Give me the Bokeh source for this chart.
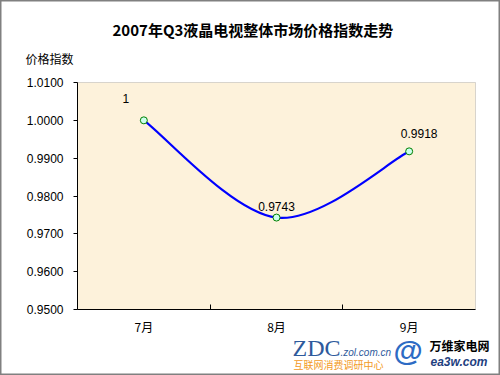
from bokeh.plotting import figure
from bokeh.models import Range1d, FixedTicker, Label, NumeralTickFormatter, ColumnDataSource, LabelSet, BoxAnnotation
from bokeh.core.properties import value
from bokeh.embed import file_html
from bokeh.resources import INLINE

# ---- data ----
months = ["7月", "8月", "9月"]
index_values = [1.0, 0.9743, 0.9918]
value_labels = ["1", "0.9743", "0.9918"]
y_ticks = [0.95, 0.96, 0.97, 0.98, 0.99, 1.00, 1.01]
title_text = "2007年Q3液晶电视整体市场价格指数走势"
y_title = "价格指数"

# ---- layout / style ----
W, H = 500, 375
PL, PR, PT, PB = 77, 475, 82, 309          # plot-area box in canvas pixels
label_dx = [-18, 0, 10]
label_dy = [22, 11, 18]
FONT = "Liberation Sans, Arial, sans-serif"
CJK = "Noto Sans CJK SC"

n = len(months)
xs = [i + 0.5 for i in range(n)]
y0, y1 = y_ticks[0], y_ticks[-1]
xpx = (PR - PL) / n
ypx = (PB - PT) / (y1 - y0)
x_range = Range1d(0 - PL / xpx, n + (W - PR) / xpx)
y_range = Range1d(y0 - (H - PB) / ypx, y1 + PT / ypx)

p = figure(width=W, height=H, output_backend="svg", toolbar_location=None,
           x_range=x_range, y_range=y_range,
           min_border=0, min_border_left=0, min_border_right=0,
           min_border_top=0, min_border_bottom=0)
p.title.visible = False
p.border_fill_color = "#ffffff"
p.background_fill_color = "#ffffff"
p.outline_line_color = "#808080"
p.outline_line_width = 2
p.grid.visible = False

# plot area
p.add_layout(BoxAnnotation(left=0, right=n, bottom=y0, top=y1, fill_color="#FDF2DB",
                           fill_alpha=1.0, line_color="#808080", line_width=1,
                           level="underlay"))

# x axis
xa = p.xaxis[0]
xa.fixed_location = y0
xa.bounds = (0, n)
xa.ticker = FixedTicker(ticks=xs, minor_ticks=[float(i) for i in range(1, n)])
xa.major_label_overrides = {x: m for x, m in zip(xs, months)}
xa.major_tick_in = 0
xa.major_tick_out = 0
xa.minor_tick_in = 5
xa.minor_tick_out = 0
xa.minor_tick_line_color = "black"
xa.axis_line_color = "black"
xa.major_label_standoff = 8
xa.major_label_text_font = CJK
xa.major_label_text_font_size = "12px"
xa.major_label_text_color = "black"

# y axis
ya = p.yaxis[0]
ya.fixed_location = 0
ya.bounds = (y0, y1)
ya.ticker = FixedTicker(ticks=y_ticks, minor_ticks=[])
ya.formatter = NumeralTickFormatter(format="0.0000")
ya.major_tick_in = 0
ya.major_tick_out = 4
ya.minor_tick_line_color = None
ya.axis_line_color = "black"
ya.major_tick_line_color = "black"
ya.major_label_standoff = 10
ya.major_label_text_font = FONT
ya.major_label_text_font_size = "12px"
ya.major_label_text_color = "black"

# smoothed line (Excel-style Catmull-Rom -> Bezier)
x0s, y0s, x1s, y1s, cx0, cy0, cx1, cy1 = [], [], [], [], [], [], [], []
for i in range(n - 1):
    pm = max(i - 1, 0)
    pp = min(i + 2, n - 1)
    x0s.append(xs[i]); y0s.append(index_values[i])
    x1s.append(xs[i + 1]); y1s.append(index_values[i + 1])
    cx0.append(xs[i] + (xs[i + 1] - xs[pm]) / 6)
    cy0.append(index_values[i] + (index_values[i + 1] - index_values[pm]) / 6)
    cx1.append(xs[i + 1] - (xs[pp] - xs[i]) / 6)
    cy1.append(index_values[i + 1] - (index_values[pp] - index_values[i]) / 6)
p.bezier(x0=x0s, y0=y0s, x1=x1s, y1=y1s, cx0=cx0, cy0=cy0, cx1=cx1, cy1=cy1,
         line_color="#0000FF", line_width=2.2)

src = ColumnDataSource(dict(x=xs, y=index_values, t=value_labels, dx=label_dx, dy=label_dy))
p.scatter("x", "y", source=src, size=7, marker="circle", fill_color="#CCFFEE",
          line_color="#008000", line_width=1)
p.add_layout(LabelSet(x="x", y="y", text="t", source=src, x_offset="dx", y_offset="dy",
                      text_align="center", text_baseline="middle",
                      text_font=value(FONT), text_font_size="12px", text_color="black"))

def lab(x, y, text, **kw):
    # x, y given in canvas pixels from the top-left corner
    p.add_layout(Label(x=x, y=H - y, x_units="screen", y_units="screen", text=text,
                       text_baseline="middle", text_align="left", **kw))

lab(112, 29, title_text, text_font=CJK, text_font_style="bold", text_font_size="15px",
    text_color="black")
lab(25, 58, y_title, text_font=CJK, text_font_size="12px", text_color="black")

# logos
lab(292, 347, "ZDC", text_font="Liberation Serif", text_font_size="24px", text_color="#2E5A9C")
lab(340, 352, ".zol.com.cn", text_font=FONT, text_font_style="italic", text_font_size="10px",
    text_color="#2E5A9C")
lab(293, 364, "互联网消费调研中心", text_font=CJK, text_font_size="10px", text_color="#F39A1E")
lab(393, 350, "@", text_font=FONT, text_font_style="bold", text_font_size="30px",
    text_color="#2D6BC4")
lab(429, 345, "万维家电网", text_font=CJK, text_font_style="bold", text_font_size="12px",
    text_color="black")
lab(430, 361, "ea3w.com", text_font=FONT, text_font_style="bold italic", text_font_size="12px",
    text_color="#1F3F7F")

open("out.html", "w").write(file_html(p, INLINE))
